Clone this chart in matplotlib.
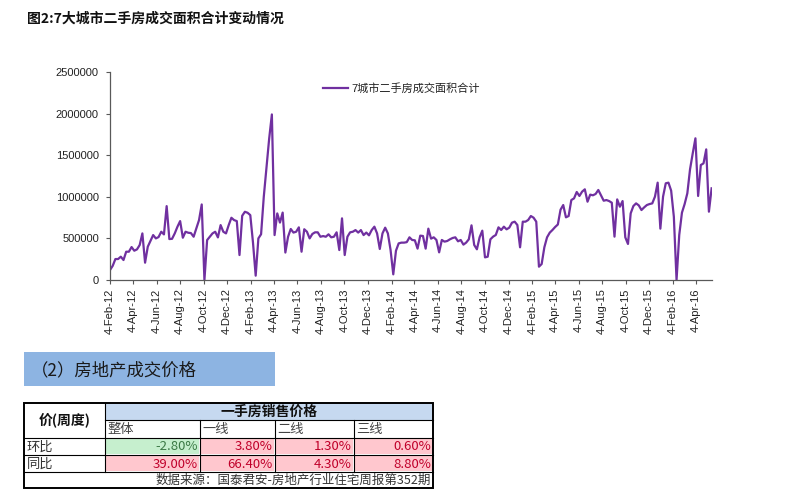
import matplotlib
matplotlib.use("Agg")
import matplotlib.pyplot as plt
from matplotlib.patches import Rectangle
import pandas as pd

plt.rcParams["font.family"] = ["Liberation Sans", "Noto Sans CJK SC", "DejaVu Sans"]

TITLE = "图2:7大城市二手房成交面积合计变动情况"
SERIES_NAME = "7城市二手房成交面积合计"
START_DATE = "2012-02-04"

# weekly totals (sq m)
AREA = [
    120000, 170000, 252000, 252000, 280000, 240000, 340000, 340000, 396000, 352000,
    368000, 420000, 560000, 208000, 400000, 470000, 540000, 500000, 516000, 580000,
    548000, 888000, 492000, 495000, 560000, 640000, 708000, 508000, 580000, 568000,
    564000, 520000, 620000, 720000, 908000, 0, 480000, 520000, 560000, 580000,
    512000, 660000, 580000, 560000, 660000, 748000, 720000, 708000, 300000, 772000,
    820000, 808000, 780000, 450000, 52000, 500000, 550000, 1000000, 1350000, 1700000,
    1990000, 540000, 800000, 690000, 810000, 330000, 520000, 613000, 570000, 580000,
    633000, 340000, 610000, 580000, 500000, 553000, 573000, 573000, 520000, 528000,
    520000, 549000, 513000, 520000, 573000, 360000, 741000, 300000, 520000, 573000,
    580000, 600000, 570000, 600000, 540000, 570000, 537000, 600000, 641000, 560000,
    373000, 560000, 629000, 560000, 360000, 68000, 352000, 440000, 449000, 449000,
    455000, 513000, 481000, 477000, 377000, 533000, 529000, 377000, 617000, 497000,
    513000, 481000, 332000, 481000, 461000, 469000, 489000, 505000, 513000, 465000,
    481000, 425000, 449000, 489000, 657000, 421000, 369000, 513000, 593000, 272000,
    280000, 489000, 521000, 541000, 633000, 601000, 641000, 609000, 629000, 689000,
    701000, 661000, 393000, 701000, 701000, 721000, 769000, 749000, 701000, 160000,
    192000, 393000, 513000, 569000, 601000, 637000, 667000, 845000, 901000, 753000,
    769000, 961000, 981000, 1058000, 1010000, 1062000, 1090000, 941000, 1026000, 1018000,
    1034000, 1082000, 1018000, 953000, 961000, 949000, 929000, 521000, 969000, 881000,
    949000, 513000, 433000, 801000, 889000, 921000, 897000, 841000, 873000, 901000,
    913000, 921000, 1002000, 1170000, 617000, 1002000, 1162000, 1170000, 1074000, 761000,
    0, 541000, 809000, 913000, 1042000, 1330000, 1522000, 1703000, 1010000, 1382000,
    1402000, 1570000, 821000, 1102000,
]
Y_TICKS = [0, 500000, 1000000, 1500000, 2000000, 2500000]

SECTION = "（2）房地产成交价格"
CORNER = "价(周度)"
TABLE_HEADER = "一手房销售价格"
TIERS = ["整体", "一线", "二线", "三线"]
ROW_NAMES = ["环比", "同比"]
HUANBI = [-2.80, 3.80, 1.30, 0.60]
TONGBI = [39.00, 66.40, 4.30, 8.80]
SOURCE = "数据来源：国泰君安-房地产行业住宅周报第352期"

W, H = 791, 500
PURPLE = "#7030A0"
AXIS_C = "#595959"

dates = pd.date_range(START_DATE, periods=len(AREA), freq="7D")
tick_dates = pd.date_range("2012-02-01", "2016-04-01", freq="2MS") + pd.Timedelta(days=3)
tick_labels = [f"{d.day}-{d:%b-%y}" for d in tick_dates]

fig = plt.figure(figsize=(W / 100, H / 100), dpi=100)

# ---- line chart ----
ax = fig.add_axes([110 / W, 1 - 280 / H, 602 / W, 208 / H])
ax.plot(dates, AREA, color=PURPLE, lw=1.6, label=SERIES_NAME)
ax.set_xlim(dates[0], dates[-1] + pd.Timedelta(days=1))
ax.set_ylim(0, 2500000)
ax.set_yticks(Y_TICKS)
ax.set_yticklabels([str(v) for v in Y_TICKS])
ax.set_xticks(tick_dates)
ax.set_xticklabels(tick_labels, rotation=90)
for s in ("top", "right"):
    ax.spines[s].set_visible(False)
for s in ("left", "bottom"):
    ax.spines[s].set_color(AXIS_C)
    ax.spines[s].set_linewidth(0.9)
ax.tick_params(axis="both", direction="out", length=3, width=0.8, color=AXIS_C,
               labelsize=8, labelcolor="#222222")
ax.tick_params(axis="y", pad=5)
ax.tick_params(axis="x", pad=3)
leg = ax.legend(loc="center left", bbox_to_anchor=(0.345, 0.923), frameon=False,
                fontsize=8, handlelength=2.2, handletextpad=0.3, borderpad=0)
for t in leg.get_texts():
    t.set_color("#222222")

# ---- overlay: title, section header, table ----
ov = fig.add_axes([0, 0, 1, 1], facecolor="none")
ov.set_xlim(0, W)
ov.set_ylim(H, 0)
ov.axis("off")

cjk = ["Noto Sans CJK SC", "DejaVu Sans"]
ov.text(27, 19, TITLE, fontsize=10, fontweight="bold", family=cjk,
        va="center", ha="left", color="#111111")

ov.add_patch(Rectangle((24, 352), 251, 34, facecolor="#8DB4E2", edgecolor="none"))
ov.text(31, 370, SECTION, fontsize=12.5, family=cjk, va="center", ha="left",
        color="#1a1a1a")

cols = [24, 105, 200, 275, 354, 433]
rows = [403, 420, 438, 455, 472, 488]

ov.add_patch(Rectangle((cols[1], rows[0]), cols[-1] - cols[1], rows[1] - rows[0],
                       facecolor="#C6D9F0", edgecolor="none"))
for r, vals in enumerate([HUANBI, TONGBI]):
    y0, y1 = rows[2 + r], rows[3 + r]
    for c, v in enumerate(vals):
        x0, x1 = cols[1 + c], cols[2 + c]
        fill, tc = ("#C6EFCE", "#3c7a46") if v < 0 else ("#FFC7CE", "#C0002A")
        ov.add_patch(Rectangle((x0 + 1, y0 + 1), x1 - x0 - 2, y1 - y0 - 2,
                               facecolor=fill, edgecolor="none"))
        ov.text(x1 - 2, (y0 + y1) / 2 + 0.5, f"{v:.2f}%", fontsize=9.5, family=cjk,
                ha="right", va="center", color=tc)
    ov.text(cols[0] + 3, (y0 + y1) / 2 + 0.5, ROW_NAMES[r], fontsize=9.5, family=cjk,
            ha="left", va="center", color="#333333")

lw_in = 0.8
ov.plot([cols[1], cols[-1]], [rows[1], rows[1]], color="black", lw=lw_in)
for y in rows[2:5]:
    ov.plot([cols[0], cols[-1]], [y, y], color="black", lw=lw_in)
ov.plot([cols[1], cols[1]], [rows[0], rows[4]], color="black", lw=lw_in)
for x in cols[2:5]:
    ov.plot([x, x], [rows[1], rows[4]], color="black", lw=lw_in)
ov.add_patch(Rectangle((cols[0], rows[0]), cols[-1] - cols[0], rows[-1] - rows[0],
                       facecolor="none", edgecolor="black", lw=1.4))

ov.text((cols[0] + cols[1]) / 2, rows[1], CORNER, fontsize=10, fontweight="bold",
        family=cjk, ha="center", va="center", color="#111111")
ov.text((cols[1] + cols[-1]) / 2, (rows[0] + rows[1]) / 2, TABLE_HEADER, fontsize=10,
        fontweight="bold", family=cjk, ha="center", va="center", color="#111111")
for c, name in enumerate(TIERS):
    ov.text(cols[1 + c] + 2, (rows[1] + rows[2]) / 2 + 0.5, name, fontsize=9.5,
            family=cjk, ha="left", va="center", color="#444444")
ov.text(cols[-1] - 2, (rows[4] + rows[5]) / 2, SOURCE, fontsize=9, family=cjk,
        ha="right", va="center", color="#333333")

fig.savefig("out.png", dpi=100)
